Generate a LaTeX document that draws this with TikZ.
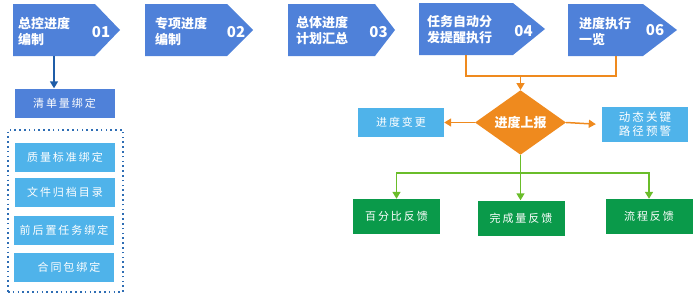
\documentclass[tikz,border=0pt]{standalone}
\usepackage{fontspec}
\setmainfont{Noto Sans CJK SC}
\newfontfamily\spfont[LetterSpace=18]{Noto Sans CJK SC}
\usetikzlibrary{arrows.meta,shapes.geometric}
\definecolor{pblue}{HTML}{4F81D9}
\definecolor{dblue}{HTML}{1F5DA8}
\definecolor{lblue}{HTML}{4FB3EA}
\definecolor{dotblue}{HTML}{2E6DB4}
\definecolor{orng}{HTML}{EF8A1E}
\definecolor{lgreen}{HTML}{6ABD2A}
\definecolor{dgreen}{HTML}{0A9A4A}
\tikzset{
  pent/.style={fill=pblue},
  anchorbox/.style={inner sep=0pt, minimum height=52pt},
  ttl/.style={anchor=west, align=left, text=white, inner sep=0pt, font=\fontsize{13}{16}\selectfont\bfseries},
  num/.style={text=white, inner sep=0pt, font=\fontsize{15}{18}\selectfont\bfseries},
  lbox/.style={fill=lblue, text=white, inner sep=0pt, minimum width=100pt, minimum height=29pt, font=\spfont\fontsize{11}{14}\selectfont},
  gbox/.style={fill=dgreen, text=white, inner sep=0pt, minimum width=87pt, minimum height=35pt, font=\spfont\fontsize{11}{14}\selectfont},
  oline/.style={draw=orng, line width=1.5pt},
  gline/.style={draw=lgreen, line width=1.5pt},
  tip/.style={-{Triangle[length=7pt,width=8pt]}},
}
\begin{document}
\begin{tikzpicture}[x=1pt,y=-1pt]
\useasboundingbox (0,0) rectangle (700,300);
% pentagons
\fill[pent] (13,4) -- (95,4) -- (120,30) -- (95,56) -- (13,56) -- cycle;
\node[anchorbox, minimum width=82pt] (s1) at (54,30) {};
\fill[pent] (145,4) -- (227,4) -- (253,30) -- (227,56) -- (145,56) -- cycle;
\node[anchorbox, minimum width=82pt] (s2) at (186,30) {};
\fill[pent] (288,4) -- (375,4) -- (395,30) -- (375,56) -- (288,56) -- cycle;
\node[anchorbox, minimum width=87pt] (s3) at (331.5,30) {};
\fill[pent] (419,3) -- (513,3) -- (545,29) -- (513,55) -- (419,55) -- cycle;
\node[anchorbox, minimum width=94pt] (s4) at (466,29) {};
\fill[pent] (568,4) -- (643,4) -- (677,30) -- (643,56) -- (568,56) -- cycle;
\node[anchorbox, minimum width=75pt] (s6) at (605.5,30) {};
% titles
\node[ttl] (t1) at (18,31) {总控进度\\编制};
\node[num] (n1) at (101,32) {01};
\node[ttl] (t2) at (155,31) {专项进度\\编制};
\node[num] (n2) at (236,32) {02};
\node[ttl] (t3) at (296,31) {总体进度\\计划汇总};
\node[num] (n3) at (378.5,32) {03};
\node[ttl] (t4) at (427,30) {任务自动分\\发提醒执行};
\node[num] (n4) at (523.5,31) {04};
\node[ttl] (t6) at (579,31) {进度执行\\一览};
\node[num] (n6) at (655,30) {06};
% left column
\node[lbox, fill=pblue] (q) at (64.5,103) {清单量绑定};
\draw[dblue, line width=1.5pt, tip] (s1.south) -- (s1.south |- q.north);
\node[draw=dotblue, line width=1.6pt, dash pattern=on 1.6pt off 3.2pt, inner sep=0pt, minimum width=115pt, minimum height=162pt] (grp) at (65.5,211) {};
\node[lbox] (c1) at (65,157.5) {质量标准绑定};
\node[lbox] (c2) at (65,192) {文件归档目录};
\node[lbox] (c3) at (64,230) {前后置任务绑定};
\node[lbox] (c4) at (64,267.5) {\hspace*{10pt}合同包绑定};
% orange part
\node[diamond, fill=orng, text=white, inner sep=0pt, minimum width=91pt, minimum height=61pt, font=\fontsize{13}{16}\selectfont\bfseries] (d) at (520.5,122.5) {进度上报};
\coordinate (o) at (520.5,76);
\draw[oline] (s4.south) |- (o) -| ([xshift=10.5pt]s6.south);
\draw[oline, tip] (o) -- (d.north);
\node[lbox, minimum width=86pt] (bg) at (401,122.5) {进度变更};
\node[lbox, minimum width=86pt, minimum height=35pt, align=center, font=\spfont\fontsize{11.5}{14}\selectfont] (bj) at (645,124.5) {动态关键\\路径预警};
\draw[oline, tip] (d.west) -- (bg.east);
\draw[oline, tip, shorten >=6pt] (d.east) -- (bj.west);
% green part
\node[gbox] (f1) at (396.5,216.5) {百分比反馈};
\node[gbox] (f2) at (521,218) {完成量反馈};
\node[gbox] (f3) at (649,216.5) {流程反馈};
\coordinate (g) at (520.5,173);
\draw[gline, tip] (d.south) -- (g) -- (g |- f2.north);
\draw[gline, tip] (g) -| (f1.north);
\draw[gline, tip] (g) -| (f3.north);
\end{tikzpicture}
\end{document}
